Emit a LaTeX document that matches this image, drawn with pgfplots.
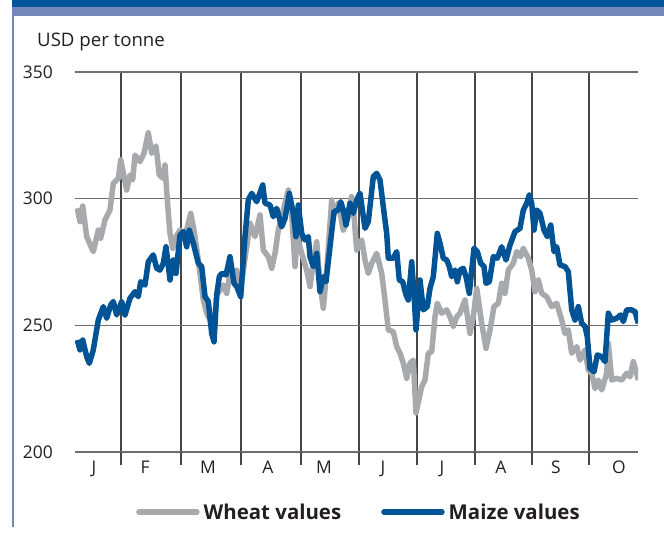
\documentclass[border=0pt]{standalone}
\usepackage{fontspec}
\setmainfont{Open Sans}
\usepackage{pgfplots}
\pgfplotsset{compat=1.18}
\definecolor{wheatgrey}{RGB}{167,169,172}
\definecolor{maizeblue}{RGB}{0,84,150}
\definecolor{bannerdark}{RGB}{0,86,152}
\definecolor{bannerlight}{RGB}{115,136,184}
\definecolor{gridgrey}{RGB}{110,110,110}
\definecolor{vgrid}{RGB}{70,70,70}
\definecolor{txt}{RGB}{35,31,32}

\begin{document}
\begin{tikzpicture}
\path[use as bounding box] (0bp,0bp) rectangle (664bp,533bp);
\fill[bannerdark] (12bp,526bp) rectangle (664bp,533bp);
\fill[bannerlight] (12bp,517bp) rectangle (664bp,526bp);
\draw[bannerlight, line width=1.2bp] (13bp,517bp) -- (13bp,6bp);
\node[anchor=west, inner sep=0pt, text=txt, font=\fontsize{18.7}{22}\selectfont] at (37bp,491bp) {USD per tonne};
\begin{axis}[
    at={(75bp,81bp)}, anchor=south west, scale only axis,
    width=563bp, height=380bp,
    xmin=75, xmax=638, ymin=200, ymax=350,
    axis line style={draw=none},
    xtick={121,181,241,301,359,417,475,532,589},
    xticklabels={},
    xtick pos=left, ytick pos=left,
    tick align=outside,
    major tick length=13bp,
    x tick style={draw=vgrid, line width=1.1bp},
    ytick={200,250,300,350},
    y tick style={draw=none},
    xmajorgrids, ymajorgrids,
    y grid style={gridgrey, line width=1.2bp},
    x grid style={vgrid, line width=1.1bp},
    /pgf/number format/assume math mode=true,
    yticklabel style={anchor=east, inner sep=0pt, xshift=-9bp, text=txt, font=\fontsize{17.5}{20}\selectfont},
    xticklabel style={anchor=north, inner sep=0pt, yshift=-9bp, text=txt, font=\fontsize{17.5}{20}\selectfont},
    extra x ticks={94,145,208,268,324,383,442,501,556,619},
    extra x tick labels={J,F,M,A,M,J,J,A,S,O},
    extra x tick style={grid=none, major tick length=0pt, tick style={draw=none}},
    legend style={at={(0.1083,-0.158)}, anchor=west, draw=none, fill=none,
        inner sep=0pt, legend columns=2, text=txt,
        font=\fontsize{20.5}{24}\selectfont\bfseries,
        /tikz/every odd column/.append style={column sep=2bp},
        /tikz/every even column/.append style={column sep=38bp}},
    legend image code/.code={\draw[#1, line cap=round] (0bp,0bp) -- (58bp,0bp);},
]
% wheat
\addplot[wheatgrey, line width=5.5bp, line join=round, mark=none] coordinates {
(77.3,296.2)(80,290.9)(82.7,297.1)(86.7,285)(93.3,279.1)(98.3,287.6)(100.7,284.4)
(105,291.6)(110,295.5)(113.3,306)(118.3,308)(120.7,315.3)(126.7,303.4)(130,309.3)
(132.7,307.4)(135,317.2)(140,314.6)(144,317.9)(148.3,326)(151.7,317.9)(156,320.8)
(159.3,309.3)(163.3,308)(165,313.3)(167.3,299.5)(170,286.3)(172.7,280.4)(176,285)
(180,287.6)(185,285)(190.7,294.2)(194,287.6)(198.3,275.8)(203.3,260)(206.7,254.8)
(210,252.1)(213,248)(217,262)(223.3,265.9)(226.7,262.6)(230,270.5)(236.7,271.8)
(240,262.6)(246.7,281)(250,290.3)(255,285)(260,293.6)(263.3,279.7)(268.3,277.1)
(271.7,272.5)(275,278.4)(278.3,287.6)(283.3,295.5)(288.3,303.4)(291.7,294.2)
(295,273.2)(297.3,285)(301.7,278.4)(306.7,271.8)(310,265.3)(313.3,274.5)(316.7,283)
(320,266.6)(323.3,256.7)(326.7,271.8)(331.7,299.5)(333.3,292.9)(338.3,298.2)
(343.3,287.6)(348.3,292.9)(351.5,300.8)(353.3,296.8)(356.7,279.7)(361.7,283.7)
(365,275.8)(368.3,270.5)(371.7,274.5)(376.7,278.4)(381.7,270.5)(385,260)(388.3,248.2)
(393.3,247.5)(396.7,241.6)(400,239)(403.3,235)(406.7,229.1)(410,235)(413.3,236.3)
(416,215.4)(421.7,225.8)(425,228.4)(428.3,239)(431.7,239.6)(435,253.4)(437.3,258.7)
(441.7,254.8)(446.7,256.1)(450,253.4)(453.3,249.5)(456.7,253.4)(460,254.8)(465,260)
(470,246.8)(473.3,253.4)(476.7,264.6)(481.7,250.8)(486,240.9)(490,248.2)(494,257.4)
(498.3,258.7)(501.7,266.6)(505,262.6)(508.3,271.8)(513.3,274.5)(516.7,279.1)
(520.7,277.1)(523.3,280.4)(528.3,276.5)(531.7,271.8)(535,263.3)(538.3,267.9)
(541.7,262.6)(546.7,261.3)(551.7,257.4)(556.7,258.7)(561.7,252.1)(565,246.8)
(568.3,248.2)(571.7,239)(576.7,241.6)(580,236.3)(585,240.3)(588.3,232.4)(591.7,231.1)
(595,225)(598.3,228.4)(601.7,224.5)(606.7,231.1)(608.3,242.9)(611.7,228.4)(616.7,229.1)
(621.7,228.4)(626.7,231.1)(630,229.7)(633.3,235.7)(638.3,228.4)
};
\addlegendentry{Wheat values}
% maize
\addplot[maizeblue, line width=5.5bp, line join=round, mark=none] coordinates {
(77.3,244.2)(80,240.3)(82.7,244.2)(86.7,237.6)(89.3,235)(93.3,240.3)(98.3,252.1)
(103.3,257.4)(106.7,252.8)(110.7,258)(113.3,259.4)(116.7,254.1)(121.7,259.4)(125,254.1)
(130,260.7)(135,263.3)(138.3,261.3)(140.7,267.2)(145,265.9)(148.3,275.1)(153.3,277.8)
(156.7,272.5)(160,271.8)(163.3,274.5)(166,281)(170,267.9)(173.3,275.8)(176,270.5)
(180,285.7)(183.3,287)(186.7,281)(189.3,287.6)(193.3,282.4)(198.3,274.5)(201.7,273.2)
(205,261.3)(208.3,259.4)(211.7,246.8)(214,243.5)(216.7,262)(219.3,269.2)(221.7,270.5)
(226,269.9)(230,277.1)(234,266.6)(236.7,265.3)(240.7,261.3)(245,285)(248.3,299.5)
(251.7,302.1)(256.7,298.8)(262.7,305.4)(265,298.2)(270,297.5)(273.3,292.9)(276.7,296.2)
(281.7,288.9)(285,292.2)(289.3,302.1)(293.3,294.2)(296,285)(298.3,297.5)(301.7,286.3)
(305,283.7)(308.3,285)(310,277.1)(313.3,273.2)(316.7,278.4)(320,263.3)(323.3,269.2)
(326,267.2)(330,281)(334,294.9)(338.3,295.5)(340.7,298.8)(343.3,295.5)(346,289.6)
(350,298.2)(353.3,294.2)(356.7,299.5)(360,302.1)(365,288.3)(368.3,290.9)(373.3,308.7)
(376.7,310)(380,307.4)(383.3,296.8)(386.7,286.3)(388.3,276.5)(393.3,276.5)(396.7,279.1)
(399.3,267.9)(402.7,267.2)(406,262)(408.3,260)(411.7,275.1)(414,262.6)(416,248.2)
(420,267.9)(423.3,256.1)(427.3,257.4)(430,264.6)(433.3,269.2)(437.3,286.3)(440,282.4)
(443.3,276.5)(446.7,275.8)(449.3,273.2)(451.7,269.2)(455,271.8)(457.3,267.2)(460,271.8)
(463.3,272.5)(466,269.2)(469.3,262.6)(474,280.4)(477.3,279.1)(480.7,274.5)(484,273.2)
(486,266.6)(489.3,267.2)(493.3,277.1)(497.3,276.5)(501.7,281)(506,275.8)(510,281.7)
(515,287)(520,288.3)(523.3,295.5)(526.7,298.2)(529.3,301.5)(531.7,298.2)(534,287.6)
(536.7,295.5)(540,294.2)(544,287.6)(547.3,285)(550.7,289.6)(554,279.1)(556.7,281)
(560,273.8)(565,273.2)(568.3,271.2)(571.7,256.1)(575,252.1)(578.3,257.4)(581.7,250.8)
(585,249.5)(587.3,245.5)(590,233)(594,231.7)(597.3,238.3)(601.7,237.6)(605,235.7)
(608.3,254.8)(611.7,252.1)(616.7,252.8)(620.7,254.1)(623.3,251.5)(626.7,256.1)
(631.7,256.1)(635,255.4)(638.3,250.8)
};
\addlegendentry{Maize values}
\end{axis}
\end{tikzpicture}
\end{document}
